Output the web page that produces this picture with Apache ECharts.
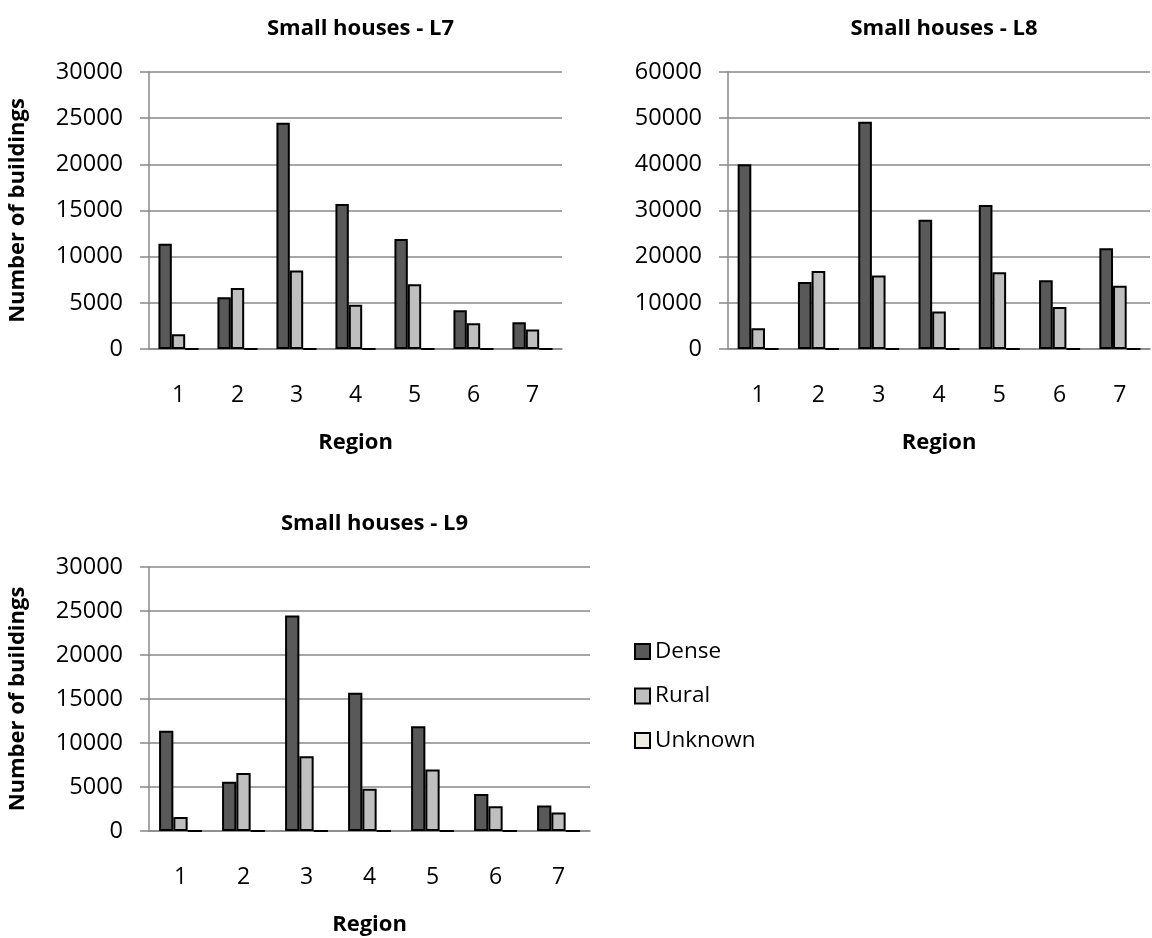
<!DOCTYPE html>
<html>
<head>
<meta charset="utf-8">
<title>Small houses by region</title>
<script src="https://cdn.jsdelivr.net/npm/echarts@6/dist/echarts.min.js"></script>
<style>
  html, body { margin: 0; padding: 0; background: #ffffff; }
  #chart { width: 1152px; height: 938px; }
</style>
</head>
<body>
<div id="chart"></div>
<script>
// Region categories shared by all three panels
const regions = ['1', '2', '3', '4', '5', '6', '7'];
const seriesNames = ['Dense', 'Rural', 'Unknown'];

// Small houses - L7
const l7Dense   = [11400, 5600, 24500, 15700, 11900, 4200, 2900];
const l7Rural   = [1600, 6600, 8500, 4800, 7000, 2800, 2100];
const l7Unknown = [0, 0, 0, 0, 0, 0, 0];

// Small houses - L8
const l8Dense   = [40000, 14500, 49200, 28000, 31200, 14900, 21800];
const l8Rural   = [4500, 16900, 15900, 8100, 16600, 9100, 13700];
const l8Unknown = [0, 0, 0, 0, 0, 0, 0];

// Small houses - L9
const l9Dense   = [11400, 5600, 24500, 15700, 11900, 4200, 2900];
const l9Rural   = [1600, 6600, 8500, 4800, 7000, 2800, 2100];
const l9Unknown = [0, 0, 0, 0, 0, 0, 0];

// Value axis ranges
const l7Axis = { max: 30000, interval: 5000 };
const l8Axis = { max: 60000, interval: 10000 };
const l9Axis = { max: 30000, interval: 5000 };

const FONT = 'Open Sans';
const GRID_COLOR = '#888888';
const fills = { Dense: '#595959', Rural: '#bfbfbf', Unknown: '#eeece1' };

const panels = [
  { title: 'Small houses - L7', grid: { left: 149, top: 72, width: 413, height: 277 },
    axis: l7Axis, yName: 'Number of buildings', data: [l7Dense, l7Rural, l7Unknown] },
  { title: 'Small houses - L8', grid: { left: 728, top: 72, width: 422, height: 277 },
    axis: l8Axis, yName: '', data: [l8Dense, l8Rural, l8Unknown] },
  { title: 'Small houses - L9', grid: { left: 149, top: 567, width: 441, height: 264 },
    axis: l9Axis, yName: 'Number of buildings', data: [l9Dense, l9Rural, l9Unknown] }
];

const option = {
  backgroundColor: '#ffffff',
  animation: false,
  textStyle: { fontFamily: FONT, color: '#000000' },
  title: panels.map(p => ({
    text: p.title,
    left: p.grid.left + p.grid.width / 2,
    top: p.grid.top - 59,
    textAlign: 'center',
    textStyle: { fontFamily: FONT, fontSize: 22, fontWeight: 'bold', color: '#000000' }
  })),
  legend: {
    orient: 'vertical',
    left: 634,
    top: 640,
    padding: 0,
    itemWidth: 15,
    itemHeight: 15,
    itemGap: 21.5,
    icon: 'rect',
    data: seriesNames,
    textStyle: { fontFamily: FONT, fontSize: 22.5, color: '#000000' }
  },
  grid: panels.map(p => Object.assign({ containLabel: false }, p.grid)),
  xAxis: panels.map((p, i) => ({
    type: 'category',
    gridIndex: i,
    data: regions,
    name: 'Region',
    nameLocation: 'middle',
    nameGap: 83,
    nameTextStyle: { fontFamily: FONT, fontSize: 22, fontWeight: 'bold', color: '#000000' },
    axisLine: { show: true, lineStyle: { color: GRID_COLOR, width: 1.5 } },
    axisTick: { show: false },
    axisLabel: { margin: 35, fontFamily: FONT, fontSize: 23, color: '#000000' },
    splitLine: { show: false }
  })),
  yAxis: panels.map((p, i) => ({
    type: 'value',
    gridIndex: i,
    min: 0,
    max: p.axis.max,
    interval: p.axis.interval,
    name: p.yName,
    nameLocation: 'middle',
    nameGap: 120,
    nameTextStyle: { fontFamily: FONT, fontSize: 22, fontWeight: 'bold', color: '#000000' },
    axisLine: { show: true, lineStyle: { color: GRID_COLOR, width: 1.5 } },
    axisTick: { show: true, inside: false, length: 9, lineStyle: { color: GRID_COLOR, width: 1.5 } },
    axisLabel: { margin: 26, fontFamily: FONT, fontSize: 23.5, color: '#000000',
                 formatter: v => String(v) },
    splitLine: { show: true, lineStyle: { color: GRID_COLOR, width: 1.5 } }
  })),
  series: []
};

panels.forEach((p, i) => {
  seriesNames.forEach((name, k) => {
    option.series.push({
      type: 'bar',
      name: name,
      xAxisIndex: i,
      yAxisIndex: i,
      data: p.data[k],
      barGap: '0%',
      barCategoryGap: '32%',
      itemStyle: { color: fills[name], borderColor: '#000000', borderWidth: 2 },
      emphasis: { disabled: true }
    });
  });
});

const chart = echarts.init(document.getElementById('chart'), null, { renderer: 'canvas' });
chart.setOption(option);
</script>
</body>
</html>
